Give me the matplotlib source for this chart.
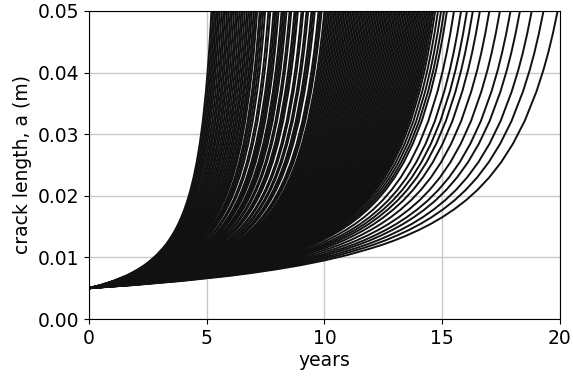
import numpy as np
import matplotlib
matplotlib.use("Agg")
import matplotlib.pyplot as plt

# crack growth curve (reaches 0.05 m at ~19.9 years)
base_years = [0, 2, 4, 6, 7, 8, 9, 10, 11, 12, 12.5, 13, 13.5, 14, 14.5, 15, 15.5,
              16, 16.5, 17, 17.5, 18, 18.5, 19, 19.3, 19.5, 19.7, 19.9]
base_crack = [0.0050, 0.00554, 0.0062, 0.00702, 0.00752, 0.00809, 0.00874, 0.00951,
              0.01041, 0.0115, 0.01211, 0.0128, 0.01358, 0.01444, 0.01541, 0.01652,
              0.01779, 0.01925, 0.02097, 0.0230, 0.02544, 0.02843, 0.03214, 0.03692,
              0.04046, 0.04322, 0.04638, 0.0500]
base_life = 19.9

# years at which each sample reaches 0.05 m (read along the top edge)
life_early = [5.20, 5.27, 5.34, 5.41, 5.48, 5.55, 5.63, 5.71, 5.78, 5.86, 5.93, 6.01,
              6.08, 6.16, 6.24, 6.31, 6.39, 6.47, 6.54, 6.62, 6.70, 6.77, 6.85, 6.92,
              7.00, 7.07, 7.14]
life_mid = [7.25, 7.32, 7.40, 7.48, 7.62, 7.70, 7.84, 7.91, 7.98, 8.05, 8.18, 8.25,
            8.32, 8.39, 8.52, 8.59, 8.73, 8.80, 8.87, 9.03, 9.10, 9.24, 9.31, 9.45,
            9.52, 9.59, 9.75, 9.82, 9.88]
life_late = [10.00, 10.07, 10.14, 10.21, 10.28, 10.35, 10.42, 10.49, 10.56, 10.63,
             10.70, 10.77, 10.84, 10.91, 10.98, 11.05, 11.12, 11.19, 11.26, 11.33,
             11.40, 11.47, 11.54, 11.61, 11.68, 11.75, 11.82, 11.89, 11.96, 12.03,
             12.10, 12.17, 12.24, 12.31, 12.38, 12.45, 12.52, 12.59, 12.66, 12.73,
             12.80, 12.87, 12.94, 13.01, 13.08, 13.15, 13.22, 13.29, 13.36, 13.43,
             13.50, 13.57, 13.64, 13.71, 13.78, 13.85, 13.92, 13.99, 14.06, 14.13,
             14.20, 14.27, 14.34, 14.41, 14.48, 14.55, 14.62]
life_tail = [14.70, 14.82, 14.95, 15.08, 15.20, 15.50, 15.80, 16.05, 16.30, 16.60,
             17.00, 17.45, 17.90, 18.30, 18.80, 19.30, 19.90]

fail_years = life_early + life_mid + life_late + life_tail

plt.rcParams['font.size'] = 13.5

fig = plt.figure(figsize=(5.73, 3.79), dpi=100)
ax = fig.add_axes([0.1553, 0.1583, 0.822, 0.8127])

t_base = np.array(base_years)
for tf in fail_years:
    ax.plot(t_base * tf / base_life, base_crack, color='#111111', lw=1.4)

ax.set_xlim(0, 20)
ax.set_ylim(0, 0.05)
ax.set_xticks([0, 5, 10, 15, 20])
ax.set_yticks([0.00, 0.01, 0.02, 0.03, 0.04, 0.05])
ax.set_yticklabels(['0.00', '0.01', '0.02', '0.03', '0.04', '0.05'])
ax.grid(True, color='#c8c8c8', lw=1.0)
ax.set_axisbelow(True)
ax.set_xlabel('years', labelpad=2)
ax.set_ylabel('crack length, a (m)', labelpad=4)

fig.savefig('out.png', dpi=100)
